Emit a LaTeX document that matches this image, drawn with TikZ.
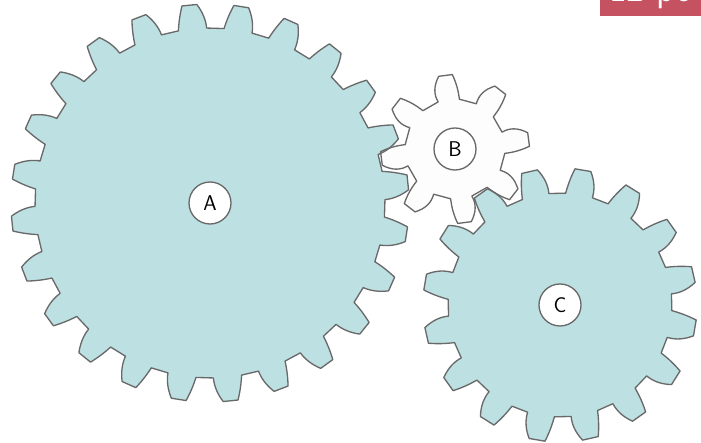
\documentclass[tikz,border=0pt]{standalone}
\definecolor{wheelblue}{RGB}{189,224,227}
\definecolor{wheelwhite}{RGB}{253,253,253}
\definecolor{wheelline}{RGB}{105,105,105}
\definecolor{tagred}{RGB}{196,82,96}
\newcommand{\gearpath}[9]{
    (#4:#2) \foreach \k [evaluate=\k as \a using #4+(\k-1)*360/#1] in {1,...,#1} {
        .. controls ({\a+#5/3-#8}:{#2+(#3-#2)/3}) and ({\a+2*#5/3-#8}:{#2+2*(#3-#2)/3}) .. ({\a+#5}:#3)
        -- ({\a+#6}:#3)
        .. controls ({\a+#6+(#7-#6)/3+#9}:{#2+2*(#3-#2)/3}) and ({\a+#6+2*(#7-#6)/3+#9}:{#2+(#3-#2)/3}) .. ({\a+#7}:#2)
        -- ({\a+360/#1}:#2)
    } -- cycle}
\newcommand{\wheelA}{\gearpath{24}{175}{199}{1.1}{2.7}{7}{9.3}{0.7}{0.2}}
\newcommand{\wheelB}{\gearpath{8}{50}{74.5}{-5}{7.1}{17.6}{24.7}{0.8}{4}}
\newcommand{\wheelC}{\gearpath{16}{112}{137}{-16.8}{3.8}{10.5}{13.9}{1.3}{0.3}}
\begin{document}
\begin{tikzpicture}[
        x=0.75pt, y=0.75pt,
        outline/.style={draw=wheelline, line width=1pt, line join=round},
        hub/.style={circle, draw=wheelline, line width=1pt, fill=white, minimum size=31.5pt, inner sep=0pt, font=\sffamily\fontsize{16}{18}\selectfont},
        tag/.style={anchor=base west, inner sep=0pt, text=white, font=\sffamily\fontsize{28}{30}\selectfont}
    ]
        \useasboundingbox (0,0) rectangle (701,443);

        \fill[wheelblue, shift={(210,240)}] \wheelA;
        \fill[wheelblue, shift={(560,138)}] \wheelC;
        \fill[wheelwhite, shift={(455,294)}] \wheelB;
        \path[outline, shift={(210,240)}] \wheelA;
        \path[outline, shift={(560,138)}] \wheelC;
        \path[outline, shift={(455,294)}] \wheelB;

        \node[hub] (a) at (210,240) {A};
        \node[hub] (b) at (455,294) {B};
        \node[hub] (c) at (560,138) {C};

        \begin{scope}
            \clip (600,427) rectangle (701,443);
            \fill[tagred] (600,427) rectangle (701,443);
            \node[tag] (points) at (609,441.5) {12 po};
        \end{scope}
    \end{tikzpicture}
\end{document}
